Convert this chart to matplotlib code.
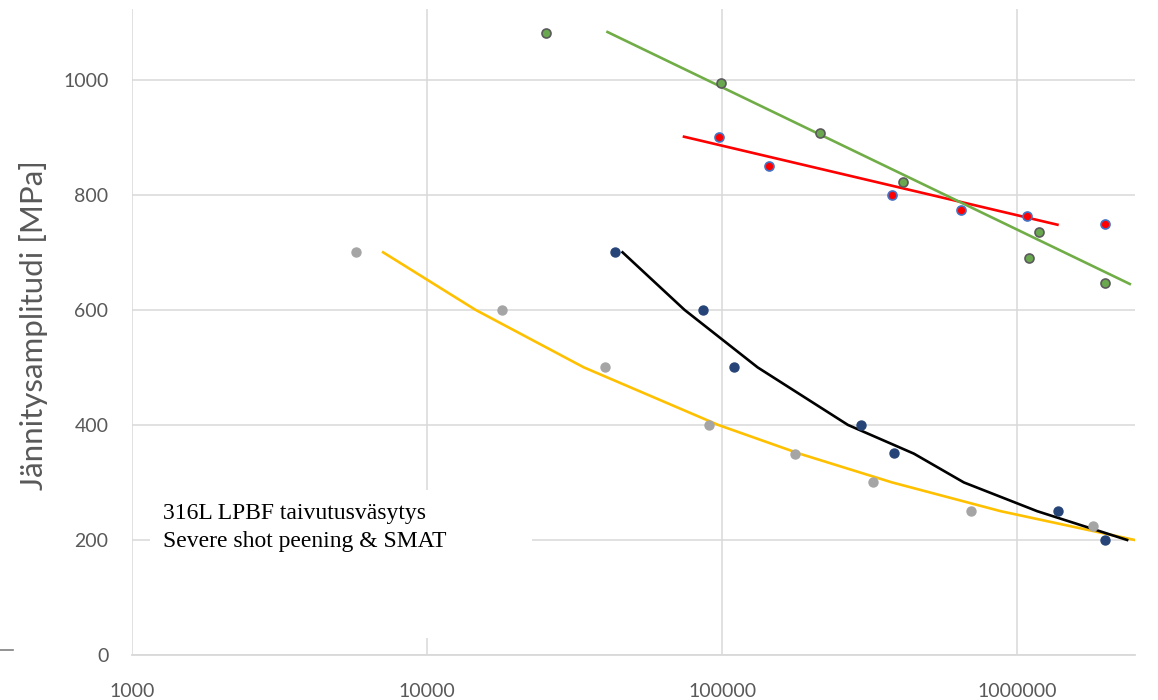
import matplotlib
matplotlib.use("Agg")
import matplotlib.pyplot as plt
from matplotlib.lines import Line2D
from matplotlib.ticker import FixedLocator, FixedFormatter, NullLocator

# measured points (cycles, stress amplitude MPa)
grey_n = [5740, 17900, 40100, 90300, 177000, 326000, 698000, 1810000]
grey_s = [700, 600, 500, 400, 350, 300, 250, 224]

navy_n = [43500, 86000, 110000, 296000, 384000, 1380000, 1990000]
navy_s = [700, 600, 500, 400, 351, 251, 200]

red_n = [98000, 144000, 378000, 647000, 1080000, 1990000]
red_s = [901, 850, 800, 774, 764, 750]

green_n = [25300, 99000, 215000, 411000, 1190000, 1100000, 1990000]
green_s = [1082, 995, 908, 822, 735, 690, 647]

# fitted curves
yellow_n = [7100, 14600, 34000, 97000, 183000, 377000, 880000, 2500000]
yellow_s = [700, 600, 500, 400, 350, 300, 250, 200]

black_n = [46000, 74600, 132000, 267000, 447000, 660000, 1170000, 2360000]
black_s = [700, 600, 500, 400, 350, 300, 250, 200]

red_fit_n = [74300, 1370000]
red_fit_s = [901, 748]

green_fit_n = [40900, 2410000]
green_fit_s = [1083, 645]

x_ticks = [1000, 10000, 100000, 1000000]
y_ticks = [0, 200, 400, 600, 800, 1000]

note_lines = ['316L LPBF taivutusväsytys', 'Severe shot peening & SMAT']

plt.rcParams['font.family'] = ['Lato', 'DejaVu Sans']

fig = plt.figure(figsize=(11.58, 7.0), dpi=100)
ax = fig.add_axes([132 / 1158, 45 / 700, 1003 / 1158, 646 / 700])

ax.set_xscale('log')
ax.set_xlim(1000, 2.51e6)
ax.set_ylim(0, 1123)

grid_c = '#d9d9d9'
ax.xaxis.set_major_locator(FixedLocator(x_ticks))
ax.xaxis.set_major_formatter(FixedFormatter([str(t) for t in x_ticks]))
ax.xaxis.set_minor_locator(NullLocator())
ax.set_yticks(y_ticks)
ax.grid(True, color=grid_c, linewidth=1.1, zorder=0)
ax.set_axisbelow(True)
for side in ['top', 'right', 'left']:
    ax.spines[side].set_visible(False)
ax.spines['bottom'].set_color(grid_c)
ax.spines['bottom'].set_linewidth(1.3)
ax.tick_params(length=0, labelsize=14, labelcolor='#595959')
ax.tick_params(axis='y', pad=17)
ax.tick_params(axis='x', pad=20)

ax.set_ylabel('Jännitysamplitudi [MPa]', fontsize=22.5, color='#595959')
ax.yaxis.set_label_coords(-0.084, 0.51)

# trend lines
ax.plot(yellow_n, yellow_s, color='#ffc000', lw=1.9, zorder=3)
ax.plot(black_n, black_s, color='black', lw=1.9, zorder=3)
ax.plot(red_fit_n, red_fit_s, color='#ff0000', lw=1.9, zorder=3)
ax.plot(green_fit_n, green_fit_s, color='#70ad47', lw=1.9, zorder=3)

# data points
ax.scatter(grey_n, grey_s, s=42, color='#a5a5a5', zorder=4)
ax.scatter(navy_n, navy_s, s=42, color='#264478', zorder=4)
ax.scatter(red_n, red_s, s=42, color='#ff0000', edgecolors='#4472c4', linewidths=1.2, zorder=4)
ax.scatter(green_n, green_s, s=42, color='#6aa84f', edgecolors='#5a5a5a', linewidths=1.2, zorder=4)

# white label box over the grid
box = plt.Rectangle((150 / 1158, 62 / 700), 382 / 1158, 148 / 700,
                    transform=fig.transFigure, facecolor='white', edgecolor='none')
box.set_zorder(2)
fig.patches.append(box)
fig.text(163 / 1158, 1 - 519 / 700, note_lines[0], family='Liberation Serif',
         fontsize=17, color='black', va='baseline', zorder=5)
fig.text(163 / 1158, 1 - 547 / 700, note_lines[1], family='Liberation Serif',
         fontsize=17, color='black', va='baseline', zorder=5)

fig.add_artist(Line2D([0, 13 / 1158], [50 / 700, 50 / 700], color='#808080', lw=1.2))

fig.savefig('out.png', dpi=100)
